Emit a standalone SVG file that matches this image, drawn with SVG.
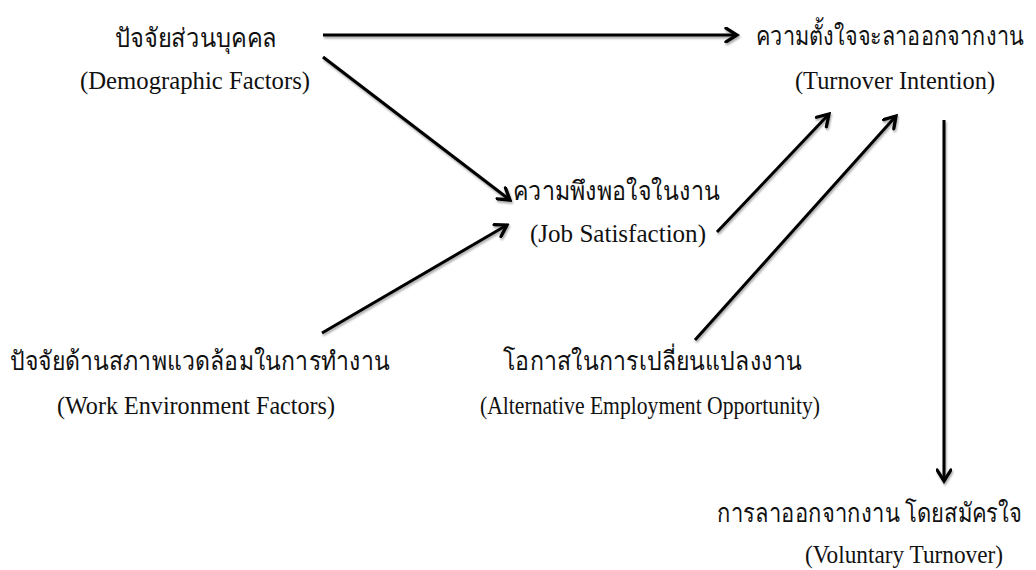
<svg xmlns="http://www.w3.org/2000/svg" width="1036" height="570" viewBox="0 0 1036 570">
  <style>
    .th { font-family: "Liberation Serif", "DejaVu Serif", serif; font-size: 26px; fill: #111; }
    .en { font-family: "Liberation Serif", "Times New Roman", serif; font-size: 25px; fill: #111; }
    .arrow { stroke: #000; stroke-width: 3; fill: none; marker-end: url(#head); }
  </style>
  <defs>
    <marker id="head" viewBox="0 0 12 12" refX="10" refY="6" markerWidth="5.5" markerHeight="5.5" orient="auto" markerUnits="strokeWidth">
      <path d="M2,1 L10,6 L2,11" fill="none" stroke="#000" stroke-width="2.4" stroke-linecap="round" stroke-linejoin="miter"/>
    </marker>
    <filter id="soft" x="-10%" y="-10%" width="120%" height="120%">
      <feGaussianBlur in="SourceAlpha" stdDeviation="1.2"/>
      <feOffset dx="1" dy="1.5" result="b"/>
      <feComponentTransfer><feFuncA type="linear" slope="0.35"/></feComponentTransfer>
      <feMerge><feMergeNode/><feMergeNode in="SourceGraphic"/></feMerge>
    </filter>
  </defs>
  <rect width="1036" height="570" fill="#fff"/>

  <!-- connectors -->
  <g id="connectors" filter="url(#soft)">
    <line class="arrow" x1="323" y1="35" x2="737" y2="35"/>
    <line class="arrow" x1="323" y1="57" x2="510" y2="200"/>
    <line class="arrow" x1="322" y1="333" x2="507" y2="225"/>
    <line class="arrow" x1="717" y1="232" x2="829" y2="114"/>
    <line class="arrow" x1="695" y1="340" x2="896" y2="116"/>
    <line class="arrow" x1="944" y1="120" x2="944" y2="481"/>
  </g>

  <!-- nodes -->
  <g id="demographic">
    <text class="th" x="115" y="47" textLength="162" lengthAdjust="spacingAndGlyphs">ปัจจัยส่วนบุคคล</text>
    <text class="en" x="80" y="89" textLength="230" lengthAdjust="spacingAndGlyphs">(Demographic Factors)</text>
  </g>
  <g id="turnover-intention">
    <text class="th" x="756" y="45" textLength="268" lengthAdjust="spacingAndGlyphs">ความตั้งใจจะลาออกจากงาน</text>
    <text class="en" x="795" y="89" textLength="200" lengthAdjust="spacingAndGlyphs">(Turnover Intention)</text>
  </g>
  <g id="job-satisfaction">
    <text class="th" x="513" y="200" textLength="207" lengthAdjust="spacingAndGlyphs">ความพึงพอใจในงาน</text>
    <text class="en" x="530" y="242" textLength="176" lengthAdjust="spacingAndGlyphs">(Job Satisfaction)</text>
  </g>
  <g id="work-environment">
    <text class="th" x="10" y="370" textLength="380" lengthAdjust="spacingAndGlyphs">ปัจจัยด้านสภาพแวดล้อมในการทำงาน</text>
    <text class="en" x="57" y="414" textLength="278" lengthAdjust="spacingAndGlyphs">(Work Environment Factors)</text>
  </g>
  <g id="alternative-employment">
    <text class="th" x="503" y="370" textLength="299" lengthAdjust="spacingAndGlyphs">โอกาสในการเปลี่ยนแปลงงาน</text>
    <text class="en" x="480" y="414" textLength="340" lengthAdjust="spacingAndGlyphs">(Alternative Employment Opportunity)</text>
  </g>
  <g id="voluntary-turnover">
    <text class="th" x="717" y="522" textLength="305" lengthAdjust="spacingAndGlyphs">การลาออกจากงาน โดยสมัครใจ</text>
    <text class="en" x="805" y="563" textLength="198" lengthAdjust="spacingAndGlyphs">(Voluntary Turnover)</text>
  </g>
</svg>
